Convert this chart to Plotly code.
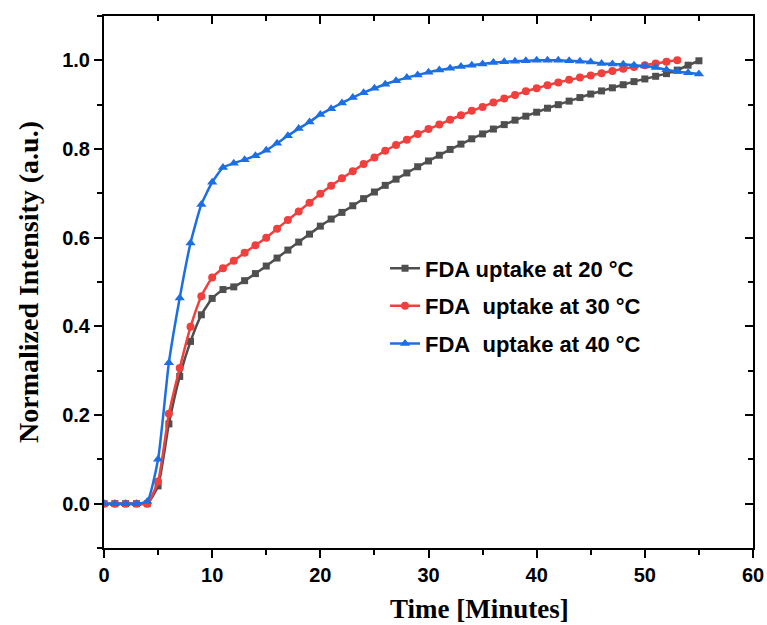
import plotly.graph_objects as go

t20 = list(range(0, 56))
v20 = [0, 0, 0, 0, 0, 0.04, 0.18, 0.287, 0.366, 0.426, 0.463, 0.483, 0.489, 0.503, 0.519, 0.536,
       0.554, 0.572, 0.590, 0.608, 0.626, 0.642, 0.657, 0.672, 0.688, 0.703, 0.718, 0.732, 0.746,
       0.760, 0.773, 0.786, 0.799, 0.811, 0.823, 0.834, 0.845, 0.855, 0.865, 0.874, 0.883, 0.892,
       0.900, 0.908, 0.916, 0.924, 0.931, 0.938, 0.945, 0.952, 0.958, 0.964, 0.970, 0.978, 0.989, 0.999]

t30 = list(range(0, 54))
v30 = [0, 0, 0, 0, 0, 0.05, 0.203, 0.306, 0.399, 0.468, 0.510, 0.531, 0.548, 0.566, 0.583, 0.600,
       0.620, 0.640, 0.659, 0.679, 0.699, 0.717, 0.734, 0.750, 0.766, 0.781, 0.796, 0.809, 0.821,
       0.834, 0.845, 0.855, 0.866, 0.876, 0.886, 0.895, 0.905, 0.914, 0.922, 0.930, 0.937, 0.944,
       0.950, 0.956, 0.961, 0.966, 0.971, 0.976, 0.981, 0.985, 0.989, 0.993, 0.997, 1.0]

t40 = list(range(0, 56))
v40 = [0, 0, 0, 0, 0.005, 0.10, 0.318, 0.464, 0.588, 0.675, 0.725, 0.758, 0.768, 0.776, 0.785,
       0.797, 0.813, 0.830, 0.846, 0.861, 0.878, 0.891, 0.904, 0.916, 0.927, 0.937, 0.946, 0.954,
       0.961, 0.967, 0.973, 0.978, 0.982, 0.986, 0.989, 0.992, 0.995, 0.997, 0.998, 0.999, 1.0,
       1.0, 1.0, 0.999, 0.998, 0.996, 0.993, 0.992, 0.991, 0.989, 0.987, 0.984, 0.979, 0.975,
       0.972, 0.969]

names = ["FDA uptake at 20 °C", "FDA\u00a0 uptake at 30 °C", "FDA\u00a0 uptake at 40 °C"]
colors = ["#4f4f4f", "#f0403e", "#1c6fe3"]
symbols = ["square", "circle", "triangle-up"]
msizes = [7, 8, 9]

fig = go.Figure()
for i, (t, v) in enumerate([(t20, v20), (t30, v30), (t40, v40)]):
    fig.add_trace(go.Scatter(
        x=t, y=v, name=names[i], mode="lines+markers",
        line=dict(color=colors[i], width=2.5, shape="spline", smoothing=0.5),
        marker=dict(symbol=symbols[i], size=msizes[i], color=colors[i]),
        legendgroup=f"g{i}",
    ))

# dummy trace for mirrored (inside-tick) axes
fig.add_trace(go.Scatter(x=[None], y=[None], xaxis="x2", yaxis="y2", showlegend=False,
                         hoverinfo="skip"))

tickfont = dict(family="Liberation Sans Narrow, Arial Narrow, Liberation Sans, Arial",
                size=20, color="black", weight="bold")
serif = "Liberation Serif, Times New Roman, serif"

fig.update_layout(
    width=767, height=625,
    margin=dict(l=104, r=14, t=16, b=77, autoexpand=False),
    plot_bgcolor="white", paper_bgcolor="white",
    showlegend=True,
    legend=dict(x=0.433, y=0.565, xanchor="left", yanchor="top",
                font=dict(family="Liberation Sans, Arial", size=22, color="black", weight="bold"),
                tracegroupgap=6, bgcolor="rgba(0,0,0,0)"),
    xaxis=dict(range=[0, 60], dtick=10, tick0=0, showgrid=False, zeroline=False, automargin=False,
               showline=True, linecolor="black", linewidth=2,
               ticks="outside", ticklen=8, tickwidth=2, tickcolor="black",
               minor=dict(dtick=5, tick0=0, ticks="outside", ticklen=5, tickwidth=2, tickcolor="black"),
               tickfont=tickfont),
    yaxis=dict(range=[-0.1, 1.1], dtick=0.2, tick0=0, tickformat=".1f", showgrid=False, automargin=False,
               zeroline=False, showline=True, linecolor="black", linewidth=2,
               ticks="outside", ticklen=8, tickwidth=2, tickcolor="black",
               minor=dict(dtick=0.1, tick0=0.1, ticks="outside", ticklen=5, tickwidth=2, tickcolor="black"),
               tickfont=tickfont,
               title=dict(text="<b>Normalized Intensity (a.u.)</b>",
                          font=dict(family=serif, size=28, color="black"), standoff=15)),
    xaxis2=dict(range=[0, 60], overlaying="x", side="top", anchor="y", dtick=10, tick0=0,
                showgrid=False, zeroline=False, showline=True, linecolor="black", linewidth=2,
                ticks="inside", ticklen=8, tickwidth=2, tickcolor="black", showticklabels=False,
                minor=dict(dtick=5, tick0=0, ticks="inside", ticklen=5, tickwidth=2, tickcolor="black")),
    yaxis2=dict(range=[-0.1, 1.1], overlaying="y", side="right", anchor="x", dtick=0.2, tick0=0,
                showgrid=False, zeroline=False, showline=True, linecolor="black", linewidth=2,
                ticks="inside", ticklen=8, tickwidth=2, tickcolor="black", showticklabels=False,
                minor=dict(dtick=0.1, tick0=0.1, ticks="inside", ticklen=5, tickwidth=2, tickcolor="black")),
    annotations=[dict(text="<b>Time [Minutes]</b>", xref="paper", yref="paper",
                      x=0.579, y=-0.115, xanchor="center", yanchor="middle", showarrow=False,
                      font=dict(family=serif, size=27, color="black"))],
)

fig.write_html("out.html")
